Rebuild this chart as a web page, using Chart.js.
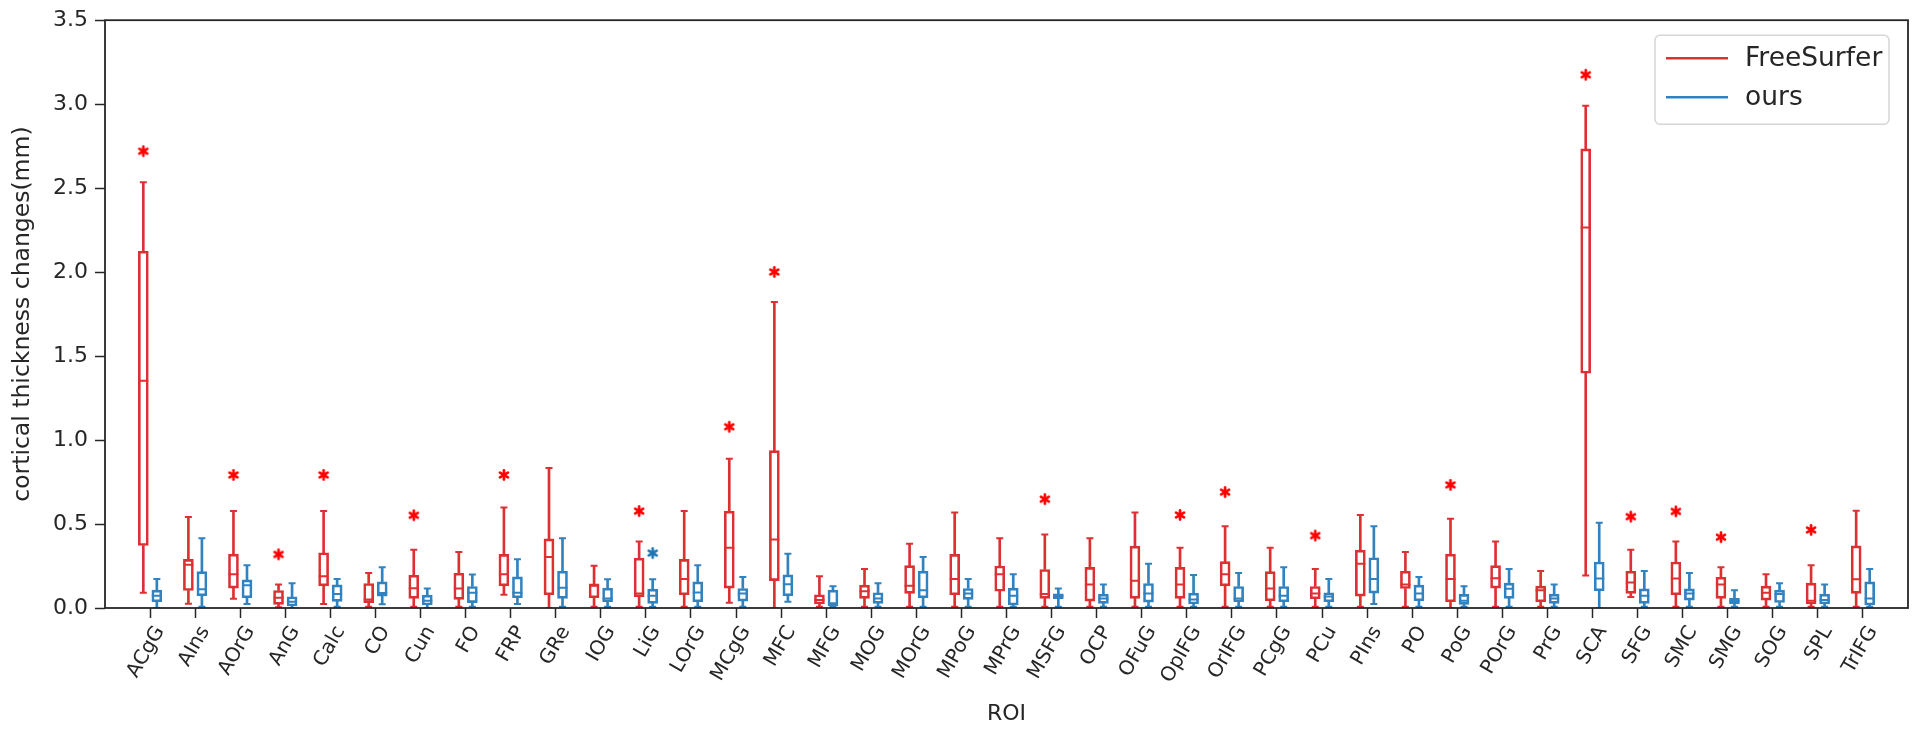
<!DOCTYPE html>
<html>
<head>
<meta charset="utf-8">
<script src="https://cdn.jsdelivr.net/npm/chart.js@4.4.1/dist/chart.umd.min.js"></script>
<style>
html,body{margin:0;padding:0;background:#ffffff;}
#wrap{width:1920px;height:733px;position:relative;}
</style>
</head>
<body>
<div id="wrap"><canvas id="c" width="1920" height="733"></canvas></div>
<script>
// ---------- data ----------
const categories = ["ACgG","AIns","AOrG","AnG","Calc","CO","Cun","FO","FRP","GRe","IOG","LiG","LOrG","MCgG","MFC","MFG","MOG","MOrG","MPoG","MPrG","MSFG","OCP","OFuG","OpIFG","OrIFG","PCgG","PCu","PIns","PO","PoG","POrG","PrG","SCA","SFG","SMC","SMG","SOG","SPL","TrIFG"];

// FreeSurfer box statistics
const fsLow  = [0.091,0.026,0.055,0.004,0.024,0.008,0.008,0.008,0.079,0.000,0.008,0.008,0.008,0.032,0.000,0.008,0.008,0.008,0.008,0.008,0.008,0.008,0.008,0.008,0.008,0.008,0.008,0.008,0.008,0.000,0.008,0.008,0.193,0.065,0.008,0.008,0.008,0.008,0.008];
const fsQ1   = [0.372,0.104,0.118,0.022,0.132,0.032,0.057,0.051,0.132,0.079,0.061,0.067,0.079,0.118,0.163,0.024,0.057,0.087,0.079,0.100,0.057,0.041,0.057,0.057,0.132,0.043,0.055,0.071,0.116,0.037,0.118,0.037,1.398,0.087,0.079,0.057,0.047,0.024,0.087];
const fsMed  = [1.353,0.258,0.201,0.061,0.189,0.051,0.118,0.116,0.201,0.303,0.132,0.087,0.173,0.359,0.408,0.047,0.100,0.132,0.173,0.201,0.083,0.140,0.162,0.140,0.201,0.116,0.087,0.264,0.140,0.173,0.177,0.106,2.266,0.152,0.175,0.140,0.091,0.043,0.171];
const fsQ3   = [2.124,0.290,0.321,0.104,0.329,0.146,0.195,0.207,0.319,0.412,0.144,0.297,0.290,0.577,0.937,0.079,0.136,0.252,0.319,0.250,0.229,0.242,0.368,0.242,0.276,0.217,0.128,0.345,0.219,0.321,0.252,0.130,2.734,0.219,0.274,0.183,0.130,0.148,0.370];
const fsHigh = [2.535,0.542,0.577,0.140,0.577,0.209,0.347,0.333,0.599,0.833,0.252,0.396,0.577,0.889,1.822,0.189,0.232,0.382,0.569,0.416,0.437,0.416,0.569,0.359,0.487,0.359,0.232,0.554,0.333,0.532,0.396,0.221,2.990,0.347,0.396,0.242,0.201,0.254,0.579];
// significance markers above FreeSurfer boxes (null = none)
const fsStar = [2.72,null,0.792,0.319,0.792,null,0.552,null,0.792,null,null,0.577,null,1.079,2.001,null,null,null,null,null,0.648,null,null,0.554,0.690,null,0.431,null,null,0.733,null,null,3.175,0.544,0.575,0.422,null,0.465,null];

// ours box statistics
const ourLow  = [0.000,0.008,0.024,0.000,0.008,0.022,0.000,0.008,0.024,0.008,0.008,0.008,0.008,0.008,0.037,0.008,0.008,0.008,0.008,0.008,0.008,0.008,0.008,0.008,0.008,0.008,0.008,0.024,0.008,0.008,0.008,0.008,0.000,0.008,0.008,0.008,0.008,0.008,0.008];
const ourQ1   = [0.037,0.073,0.061,0.012,0.039,0.071,0.018,0.032,0.061,0.057,0.037,0.028,0.037,0.041,0.073,0.012,0.028,0.061,0.051,0.018,0.055,0.028,0.035,0.024,0.037,0.037,0.037,0.089,0.043,0.022,0.057,0.028,0.102,0.028,0.047,0.024,0.033,0.024,0.018];
const ourMed  = [0.073,0.112,0.136,0.037,0.083,0.089,0.043,0.091,0.091,0.120,0.057,0.073,0.093,0.087,0.142,0.028,0.057,0.106,0.087,0.073,0.071,0.057,0.087,0.051,0.057,0.073,0.069,0.173,0.087,0.043,0.114,0.057,0.175,0.073,0.087,0.041,0.083,0.047,0.057];
const ourQ3   = [0.106,0.217,0.167,0.067,0.138,0.156,0.077,0.128,0.185,0.219,0.118,0.112,0.156,0.116,0.197,0.106,0.091,0.219,0.116,0.118,0.085,0.083,0.146,0.089,0.128,0.128,0.091,0.299,0.136,0.081,0.148,0.083,0.274,0.114,0.114,0.057,0.106,0.083,0.156];
const ourHigh = [0.173,0.416,0.254,0.148,0.173,0.242,0.116,0.199,0.290,0.416,0.171,0.171,0.254,0.185,0.323,0.130,0.148,0.303,0.173,0.201,0.116,0.140,0.264,0.197,0.209,0.242,0.173,0.487,0.185,0.130,0.232,0.140,0.508,0.221,0.209,0.106,0.148,0.140,0.232];
const ourStar = [null,null,null,null,null,null,null,null,null,null,null,0.327,null,null,null,null,null,null,null,null,null,null,null,null,null,null,null,null,null,null,null,null,null,null,null,null,null,null,null];

const seriesNames = ["FreeSurfer","ours"];
const yTicks = [0,0.5,1.0,1.5,2.0,2.5,3.0,3.5];

// ---------- styling ----------
const RED = 'rgb(220,48,50)';
const BLUE = 'rgb(48,130,192)';
const STAR_RED = '#ff0000';
const STAR_BLUE = '#1f77b4';
const OFFSET = 0.15;           // box position shift from category tick (axis units)
const TEXT = '#262626';
const FONT = '"DejaVu Sans", sans-serif';

Chart.defaults.font.family = FONT;
Chart.defaults.color = TEXT;

// six-spoke asterisk marker, centred exactly in its canvas
function makeStarImage(color){
  const s = 16, c = document.createElement('canvas');
  c.width = s; c.height = s;
  const g = c.getContext('2d');
  g.strokeStyle = color;
  g.lineWidth = 2.7;
  g.lineCap = 'round';
  const r = 4.6, cx = s / 2, cy = s / 2;
  [90, 30, -30].forEach(deg => {
    const a = deg * Math.PI / 180;
    g.beginPath();
    g.moveTo(cx - r * Math.cos(a), cy - r * Math.sin(a));
    g.lineTo(cx + r * Math.cos(a), cy + r * Math.sin(a));
    g.stroke();
  });
  return c;
}

function boxData(pos, q1, q3){ return categories.map((_, i) => ({x: i + 1 + pos, y: [q1[i], q3[i]]})); }
function whiskerData(pos, lo, q1, q3, hi){
  const out = [];
  categories.forEach((_, i) => {
    out.push({x: i + 1 + pos, y: [lo[i], q1[i]]});
    out.push({x: i + 1 + pos, y: [q3[i], hi[i]]});
  });
  return out;
}
function capData(pos, lo, hi){
  const out = [];
  categories.forEach((_, i) => { out.push({x: i + 1 + pos, y: lo[i]}); out.push({x: i + 1 + pos, y: hi[i]}); });
  return out;
}
function pointData(pos, vals){
  const out = [];
  vals.forEach((v, i) => { if (v !== null) out.push({x: i + 1 + pos, y: v}); });
  return out;
}

function seriesDatasets(name, pos, color, starColor, lo, q1, med, q3, hi, stars){
  return [
    {type:'bar', label:name, data: boxData(pos, q1, q3), grouped:false, barThickness:10,
     backgroundColor:'rgba(255,255,255,0)', borderColor:color, borderWidth:2, borderSkipped:false, order:2},
    {type:'bar', label:name + ' whiskers', data: whiskerData(pos, lo, q1, q3, hi), grouped:false, barThickness:2,
     backgroundColor:color, borderWidth:0, order:3},
    {type:'scatter', label:name + ' median', data: pointData(pos, med), pointStyle:'line', pointRadius:5,
     borderColor:color, borderWidth:2, order:1},
    {type:'scatter', label:name + ' caps', data: capData(pos, lo, hi), pointStyle:'line', pointRadius:3.5,
     borderColor:color, borderWidth:2, order:1},
    {type:'scatter', label:name + ' significance', data: pointData(pos, stars), pointStyle: makeStarImage(starColor),
     pointRadius:6, order:0}
  ];
}

const datasets = [
  ...seriesDatasets(seriesNames[0], -OFFSET, RED, STAR_RED, fsLow, fsQ1, fsMed, fsQ3, fsHigh, fsStar),
  ...seriesDatasets(seriesNames[1], OFFSET, BLUE, STAR_BLUE, ourLow, ourQ1, ourMed, ourQ3, ourHigh, ourStar)
];

const framePlugin = {
  id: 'frameAndLegend',
  afterDatasetsDraw(chart){
    const {ctx, chartArea: a} = chart;
    ctx.save();
    ctx.strokeStyle = TEXT;
    ctx.lineWidth = 1.8;
    ctx.strokeRect(a.left, a.top, a.right - a.left, a.bottom - a.top);
    ctx.restore();
  },
  afterDraw(chart){
    const {ctx, chartArea: a} = chart;
    const right = a.right - 19, top = a.top + 15;
    const w = 234, h = 89, left = right - w;
    ctx.save();
    const r = 5;
    ctx.beginPath();
    ctx.moveTo(left + r, top);
    ctx.arcTo(right, top, right, top + h, r);
    ctx.arcTo(right, top + h, left, top + h, r);
    ctx.arcTo(left, top + h, left, top, r);
    ctx.arcTo(left, top, right, top, r);
    ctx.closePath();
    ctx.fillStyle = 'rgba(255,255,255,0.8)';
    ctx.fill();
    ctx.strokeStyle = '#d6d6d6';
    ctx.lineWidth = 1.5;
    ctx.stroke();
    const colors = [RED, BLUE];
    const rows = [top + 23, top + 62];
    seriesNames.forEach((n, k) => {
      ctx.beginPath();
      ctx.strokeStyle = colors[k];
      ctx.lineWidth = 2.5;
      ctx.moveTo(left + 11, rows[k]);
      ctx.lineTo(left + 73, rows[k]);
      ctx.stroke();
      ctx.fillStyle = TEXT;
      ctx.font = '26.5px ' + FONT;
      ctx.textBaseline = 'middle';
      ctx.textAlign = 'left';
      ctx.fillText(n, left + 90, rows[k] + 1);
    });
    ctx.restore();
  }
};

new Chart(document.getElementById('c'), {
  type: 'bar',
  data: { datasets },
  plugins: [framePlugin],
  options: {
    responsive: false,
    animation: false,
    events: [],
    devicePixelRatio: 1,
    layout: { padding: { left: 0, right: 12, top: 17, bottom: 0 } },
    plugins: { legend: { display: false }, tooltip: { enabled: false } },
    scales: {
      x: {
        type: 'linear', min: 0, max: 40, offset: false,
        grid: { display: true, drawOnChartArea: false, drawTicks: true, tickLength: 10, tickColor: TEXT, tickWidth: 1.5, offset: false },
        border: { display: false },
        afterBuildTicks: (axis) => { axis.ticks = categories.map((_, i) => ({ value: i + 1 })); },
        afterFit: (axis) => { axis.height = 125; },
        ticks: {
          autoSkip: false, minRotation: 60, maxRotation: 60, labelOffset: 10, padding: 4,
          font: { size: 20 }, color: TEXT,
          callback: (v) => categories[v - 1] || ''
        },
        title: { display: true, text: 'ROI', font: { size: 22 }, color: TEXT, padding: { top: 0, bottom: 6 } }
      },
      y: {
        type: 'linear', min: 0, max: 3.5,
        grid: { display: true, drawOnChartArea: false, drawTicks: true, tickLength: 10, tickColor: TEXT, tickWidth: 1.5 },
        border: { display: false },
        afterBuildTicks: (axis) => { axis.ticks = yTicks.map(v => ({ value: v })); },
        afterFit: (axis) => { axis.width = 105; },
        ticks: { font: { size: 22 }, color: TEXT, padding: 7, callback: (v) => Number(v).toFixed(1) },
        title: { display: true, text: 'cortical thickness changes(mm)', font: { size: 23.5 }, color: TEXT, padding: { top: 9, bottom: 0 } }
      }
    }
  }
});
</script>
</body>
</html>
